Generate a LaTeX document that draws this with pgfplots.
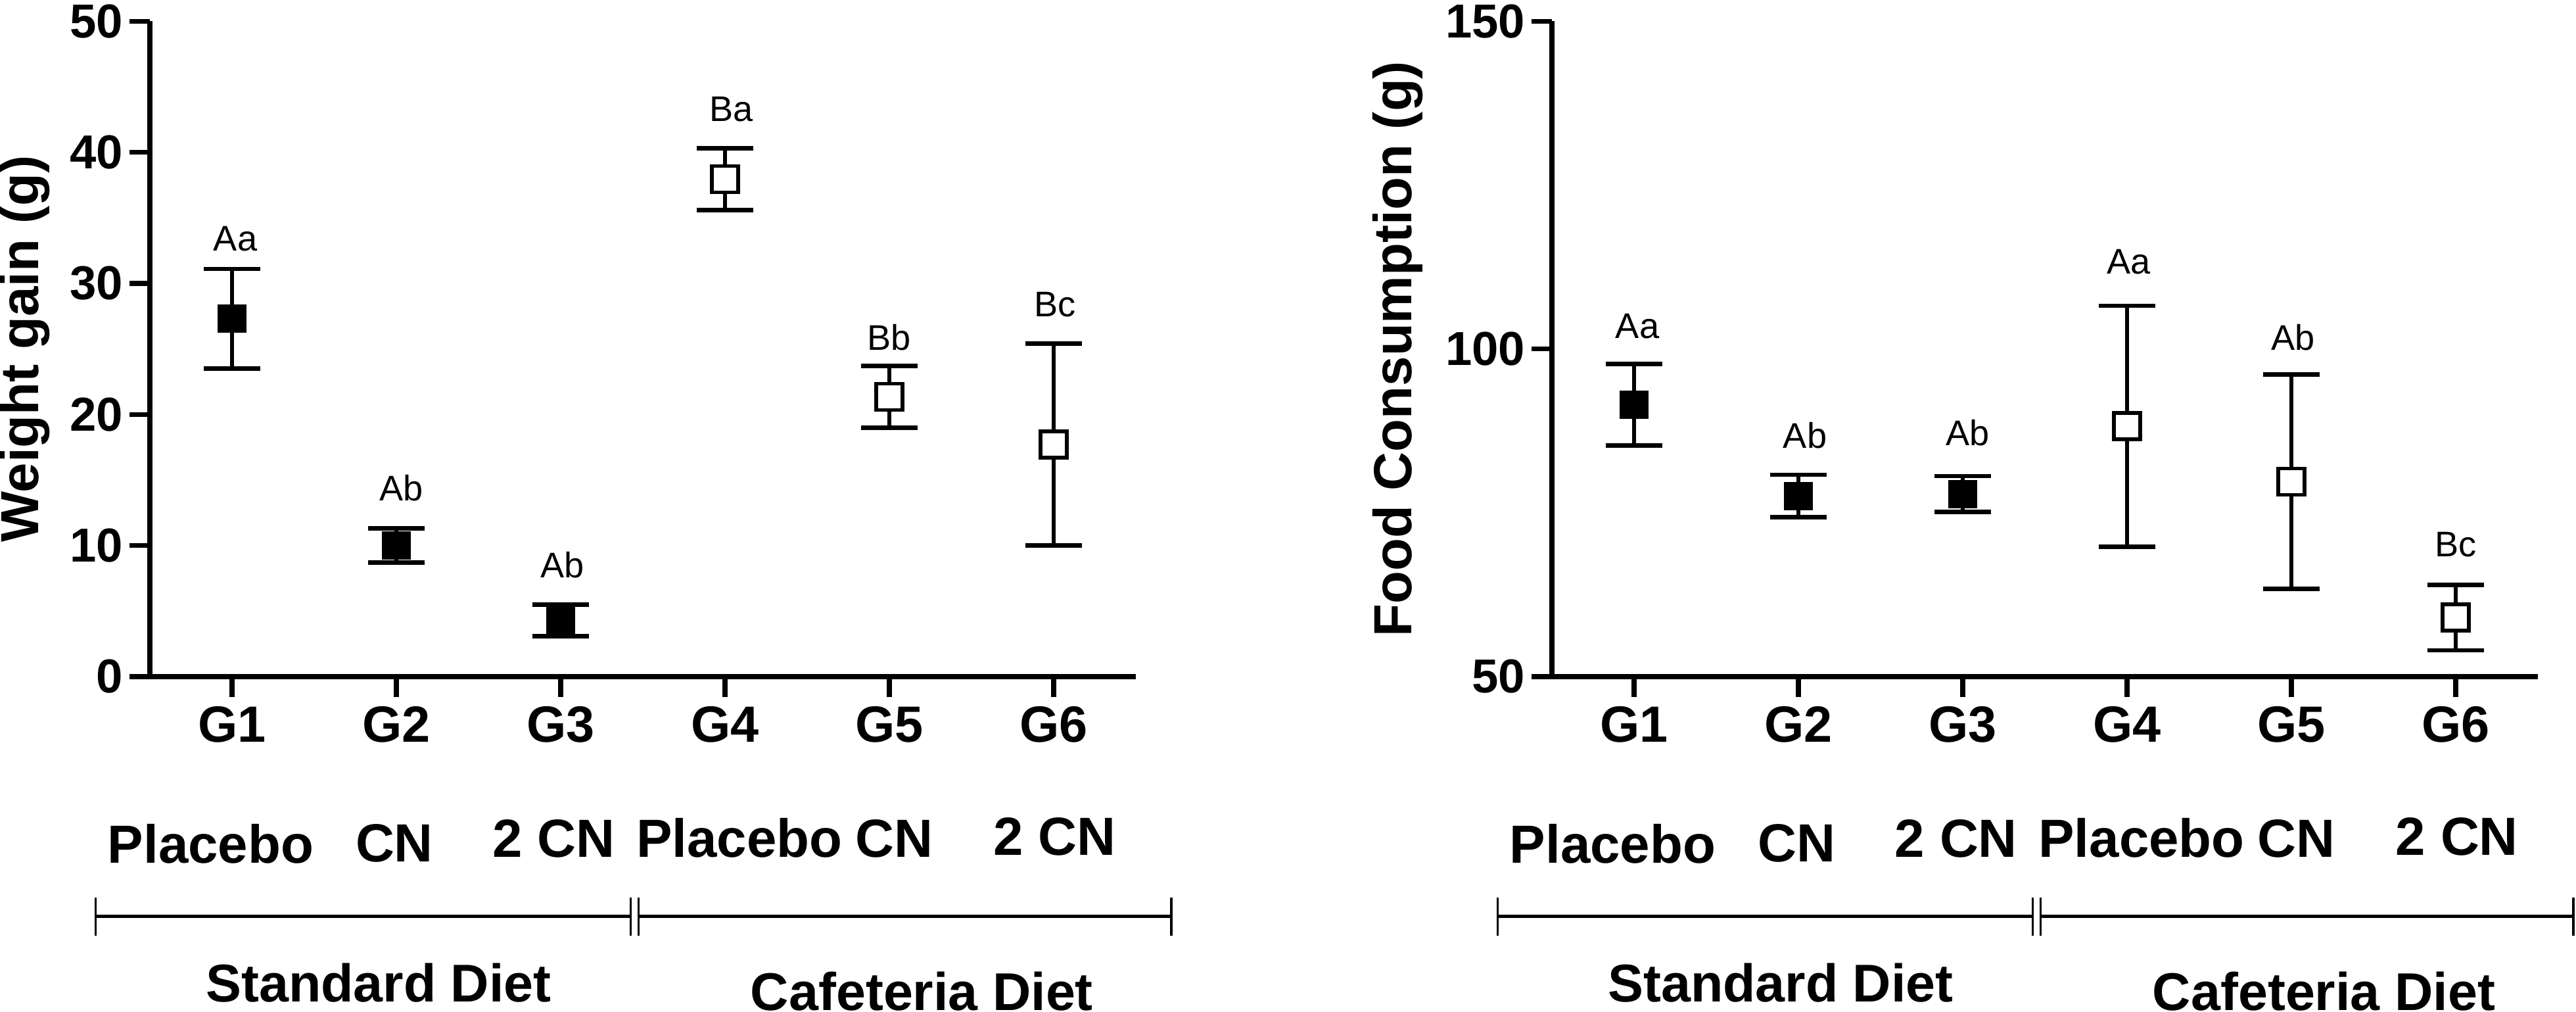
\documentclass[border=0pt]{standalone}
\usepackage{fontspec}
\setmainfont{Liberation Sans}
\usepackage{pgfplots}
\pgfplotsset{compat=1.18}

\newcommand\fs[1]{\fontsize{#1}{#1}\selectfont}

\pgfplotsset{
  gp/.style={
    scale only axis, width=180pt, height=119.6pt,
    axis lines=left, axis line style={-, line width=1pt},
    xmin=0.5, xmax=6.5, xtick={1,...,6}, xticklabels={G1,G2,G3,G4,G5,G6},
    tick align=outside, major tick length=3.7pt,
    tick style={line width=0.9pt, black},
    /pgf/number format/assume math mode=true,
    yticklabel style={font=\bfseries\fs{8.7}, inner sep=1pt},
    xticklabel style={font=\bfseries\fs{9.3}, inner sep=1.5pt},
    clip=false,
  },
  ebar/.style={
    /pgfplots/error bars/y dir=both, /pgfplots/error bars/y explicit,
    /pgfplots/error bars/error bar style={line width=0.7pt, black},
    /pgfplots/error bars/error mark options={rotate=90, mark size=5.2pt, line width=0.8pt, black},
  },
  filled/.style={only marks, mark=square*, mark size=2.4pt, mark options={fill=black, draw=black}, ebar},
  open/.style={only marks, mark=square*, mark size=2.4pt, mark options={fill=white, draw=black, line width=0.7pt}, ebar},
  letters/.style={draw=none, mark=none, nodes near coords, point meta=explicit symbolic,
    nodes near coords style={anchor=center, font=\fs{6.5}}},
}

% treatment names, group brackets and diet names under each axis
\newcommand\groups{%
  \begin{scope}[font=\bfseries\fs{9.8}]
    \node[anchor=base] at (rel axis cs:0.0617,-0.284) {Placebo};
    \node[anchor=base] at (rel axis cs:0.248,-0.282) {CN};
    \node[anchor=base] at (rel axis cs:0.41,-0.275) {2 CN};
    \node[anchor=base] at (rel axis cs:0.598,-0.275) {Placebo};
    \node[anchor=base] at (rel axis cs:0.755,-0.275) {CN};
    \node[anchor=base] at (rel axis cs:0.918,-0.272) {2 CN};
  \end{scope}
  \draw[line width=0.6pt] (rel axis cs:-0.055,-0.366) -- (rel axis cs:0.4875,-0.366);
  \draw[line width=0.6pt] (rel axis cs:0.4955,-0.366) -- (rel axis cs:1.036,-0.366);
  \draw[line width=0.4pt] (rel axis cs:-0.055,-0.337) -- (rel axis cs:-0.055,-0.395);
  \draw[line width=0.4pt] (rel axis cs:0.4875,-0.337) -- (rel axis cs:0.4875,-0.395);
  \draw[line width=0.4pt] (rel axis cs:0.4955,-0.337) -- (rel axis cs:0.4955,-0.395);
  \draw[line width=0.4pt] (rel axis cs:1.036,-0.337) -- (rel axis cs:1.036,-0.395);
  \node[anchor=base, font=\bfseries\fs{9.7}] at (rel axis cs:0.232,-0.496) {Standard Diet};
  \node[anchor=base, font=\bfseries\fs{9.7}] at (rel axis cs:0.783,-0.509) {Cafeteria Diet};
}

\begin{document}
\begin{tikzpicture}
% weight gain
\begin{axis}[gp, at={(27.36pt,61.08pt)}, anchor=south west,
    ymin=0, ymax=50, ytick={0,10,...,50},
    ylabel={Weight gain (g)},
    every axis y label/.style={at={(rel axis cs:-0.127,0.5)}, rotate=90, anchor=center, font=\bfseries\fs{9.8}}]
  \addplot[filled] table[x=x, y=y, y error=e] {
x y e
1 27.3 3.8
2 10.0 1.3
3 4.3 1.2
};
  \addplot[open] table[x=x, y=y, y error=e] {
x y e
4 37.95 2.35
5 21.35 2.35
6 17.7 7.7
};
  \addplot[letters] table[x=x, y=y, meta=t] {
x y t
1.02 33.4 Aa
2.03 14.4 Ab
3.01 8.5 Ab
4.04 43.3 Ba
5.00 25.9 Bb
6.01 28.4 Bc
};
  \groups
\end{axis}
% food consumption
\begin{axis}[gp, at={(283.32pt,61.08pt)}, anchor=south west,
    ymin=50, ymax=150, ytick={50,100,150},
    ylabel={Food Consumption (g)},
    every axis y label/.style={at={(rel axis cs:-0.156,0.5)}, rotate=90, anchor=center, font=\bfseries\fs{9.8}}]
  \addplot[filled] table[x=x, y=y, y error=e] {
x y e
1 91.5 6.2
2 77.55 3.25
3 77.85 2.75
};
  \addplot[open] table[x=x, y=y, y error=e] {
x y e
4 88.2 18.4
5 79.75 16.35
6 59.0 5.0
};
  \addplot[letters] table[x=x, y=y, meta=t] {
x y t
1.02 103.5 Aa
2.04 86.8 Ab
3.03 87.2 Ab
4.01 113.3 Aa
5.01 101.8 Ab
6.00 70.2 Bc
};
  \groups
\end{axis}
\pgfresetboundingbox
\path[use as bounding box] (0,0) rectangle (470.28pt,184.56pt);
\end{tikzpicture}
\end{document}
